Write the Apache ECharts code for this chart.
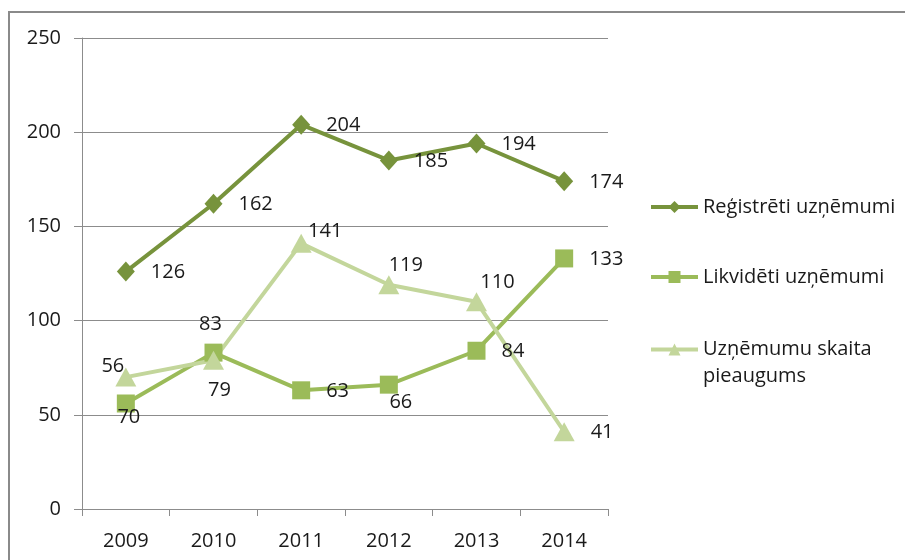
<!DOCTYPE html>
<html>
<head>
<meta charset="utf-8">
<script src="https://cdn.jsdelivr.net/npm/echarts@6/dist/echarts.min.js"></script>
<style>
	html, body { margin: 0; padding: 0; background: #fff; }
	#chart { width: 905px; height: 560px; }
</style>
</head>
<body>
<div id="chart"></div>
<script>
const years = ['2009', '2010', '2011', '2012', '2013', '2014'];
const registered = [126, 162, 204, 185, 194, 174];
const liquidated = [56, 83, 63, 66, 84, 133];
const growth = [70, 79, 141, 119, 110, 41];
const seriesNames = ['Reģistrēti uzņēmumi', 'Likvidēti uzņēmumi', 'Uzņēmumu skaita\npieaugums'];

// label placement tweaks (index = year), null -> series default
const liquidatedLabelPos = [[-13, -37], [-3, -28], null, [12, 18], null, null];
const growthLabelPos = [[3, 40], [6, 30], [24, -12], [17, -20], [21, -19], null];

const FONT = '"Open Sans", "Noto Sans", sans-serif';
const TXT = '#1a1a1a';
const GRID = '#8c8c8c';

function withLabels(values, placement) {
	return values.map(function(v, i) {
		if (!placement[i]) return v;
		return { value: v, label: { position: 'inside', offset: placement[i] } };
	});
}

let myChart = echarts.init(document.getElementById('chart'), null, { renderer: 'canvas' });

let labelBase = {
	show: true,
	position: 'right',
	distance: 16,
	offset: [0, 1],
	color: TXT,
	fontFamily: FONT,
	fontSize: 20
};

let legendBase = {
	orient: 'vertical',
	left: 644,
	itemWidth: 47,
	itemHeight: 15,
	lineStyle: { width: 4 },
	textStyle: { fontFamily: FONT, fontSize: 20, color: TXT }
};

let option = {
	animation: false,
	backgroundColor: '#fff',
	graphic: [{
		type: 'rect',
		shape: { x: 9, y: 12, width: 1000, height: 1000 },
		style: { fill: 'none', stroke: '#8a8a8a', lineWidth: 2 },
		silent: true
	}],
	grid: { left: 82, right: 297, top: 38, bottom: 51 },
	legend: [
		Object.assign({}, legendBase, { top: 192, data: [seriesNames[0]] }),
		Object.assign({}, legendBase, { top: 262, data: [seriesNames[1]] }),
		Object.assign({}, legendBase, {
			top: 304,
			data: [seriesNames[2]],
			// empty first line keeps the icon level with "Uzņēmumu skaita"
			formatter: function(name) { return '\n' + name; },
			textStyle: { fontFamily: FONT, fontSize: 20, color: TXT, lineHeight: 27 }
		})
	],
	xAxis: {
		type: 'category',
		data: years,
		boundaryGap: true,
		axisLine: { lineStyle: { color: GRID, width: 1 } },
		axisTick: { show: true, length: 7, lineStyle: { color: GRID } },
		axisLabel: { color: TXT, fontFamily: FONT, fontSize: 20, margin: 22 }
	},
	yAxis: {
		type: 'value',
		min: 0,
		max: 250,
		interval: 50,
		axisLine: { show: true, lineStyle: { color: GRID, width: 1 } },
		axisTick: { show: true, length: 8, lineStyle: { color: GRID } },
		axisLabel: { color: TXT, fontFamily: FONT, fontSize: 20, margin: 21 },
		splitLine: { lineStyle: { color: GRID, width: 1 } }
	},
	series: [
		{
			name: seriesNames[0],
			type: 'line',
			data: registered,
			symbol: 'diamond',
			symbolSize: [18, 20],
			color: '#77933c',
			lineStyle: { width: 4, color: '#77933c' },
			itemStyle: { color: '#77933c' },
			label: labelBase
		},
		{
			name: seriesNames[1],
			type: 'line',
			data: withLabels(liquidated, liquidatedLabelPos),
			symbol: 'rect',
			symbolSize: 18,
			color: '#9bbb59',
			lineStyle: { width: 4, color: '#9bbb59' },
			itemStyle: { color: '#9bbb59' },
			label: labelBase
		},
		{
			name: seriesNames[2],
			type: 'line',
			data: withLabels(growth, growthLabelPos),
			symbol: 'triangle',
			symbolSize: [21, 19],
			color: '#c3d69b',
			lineStyle: { width: 4, color: '#c3d69b' },
			itemStyle: { color: '#c3d69b' },
			label: labelBase
		}
	]
};

option && myChart.setOption(option);
</script>
</body>
</html>
